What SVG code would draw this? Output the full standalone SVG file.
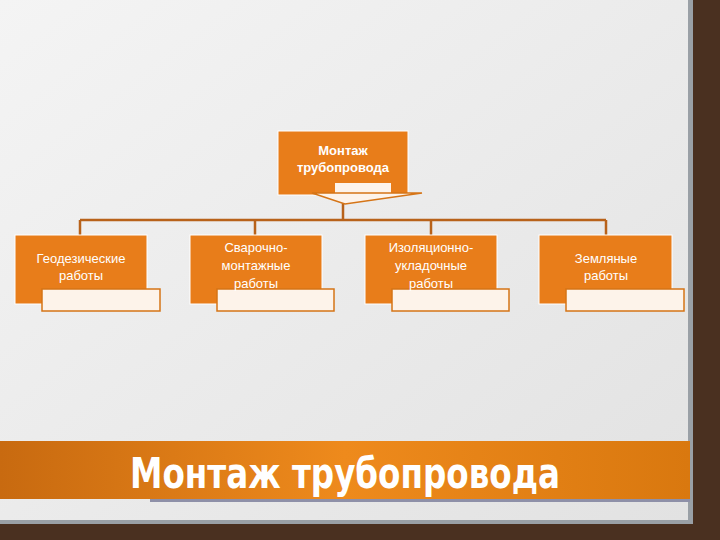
<svg xmlns="http://www.w3.org/2000/svg" width="720" height="540" viewBox="0 0 720 540">
<defs>
<linearGradient id="bg" x1="0" y1="0" x2="1" y2="1"><stop offset="0" stop-color="#f4f4f4"/><stop offset="1" stop-color="#e2e2e2"/></linearGradient>
<linearGradient id="band" x1="0" y1="0" x2="1" y2="0"><stop offset="0" stop-color="#c86a10"/><stop offset="0.5" stop-color="#ee8a1c"/><stop offset="1" stop-color="#d9780f"/></linearGradient>
</defs>
<style>
.n{fill:#e87d1a;stroke:#fff;stroke-width:1}
.w{fill:#fdf3ea;stroke:#d57416;stroke-width:1.5}
.t{font-family:"Liberation Sans",Arial,sans-serif;font-size:13px;fill:#fff;text-anchor:middle}
.c{stroke:#b8621a;stroke-width:2.5;fill:none}
</style>
<rect width="720" height="540" fill="#4a3020"/>
<rect x="0" y="0" width="693" height="524" fill="#9aa0a6"/>
<rect x="0" y="0" width="688" height="520" fill="url(#bg)"/>
<rect x="0" y="441" width="690" height="58" fill="url(#band)"/>
<rect x="150" y="499" width="540" height="3" fill="#8e90a8"/>
<text x="345" y="488" font-family="DejaVu Sans Condensed,DejaVu Sans,sans-serif" font-weight="bold" font-size="42" fill="#fff" text-anchor="middle" textLength="430" lengthAdjust="spacingAndGlyphs">Монтаж трубопровода</text>
<g id="connectors">
<path class="c" d="M343 200V220M80 220H606M80 220V235M255 220V235M431 220V235M606 220V235"/>
</g>
<g id="root">
<rect class="n" x="278" y="131" width="130" height="64"/>
<rect class="w" x="335" y="183" width="56" height="14" style="stroke:none"/>
<polygon points="312,193 422,193 345,204" fill="#fdf3ea" stroke="#d57416" stroke-width="1.5"/>
<text class="t" x="343" y="155" font-weight="bold">Монтаж</text>
<text class="t" x="343" y="172" font-weight="bold">трубопровода</text>
</g>
<g id="n1"><rect class="n" x="15" y="235" width="132" height="69"/><rect class="w" x="42" y="289" width="118" height="22"/>
<text class="t" x="81" y="263">Геодезические</text><text class="t" x="81" y="280">работы</text></g>
<g id="n2"><rect class="n" x="190" y="235" width="132" height="69"/><rect class="w" x="217" y="289" width="117" height="22"/>
<text class="t" x="256" y="252">Сварочно-</text><text class="t" x="256" y="270">монтажные</text><text class="t" x="256" y="288">работы</text></g>
<g id="n3"><rect class="n" x="365" y="235" width="132" height="69"/><rect class="w" x="392" y="289" width="117" height="22"/>
<text class="t" x="431" y="252">Изоляционно-</text><text class="t" x="431" y="270">укладочные</text><text class="t" x="431" y="288">работы</text></g>
<g id="n4"><rect class="n" x="539" y="235" width="133" height="69"/><rect class="w" x="566" y="289" width="118" height="22"/>
<text class="t" x="606" y="263">Земляные</text><text class="t" x="606" y="280">работы</text></g>
</svg>
